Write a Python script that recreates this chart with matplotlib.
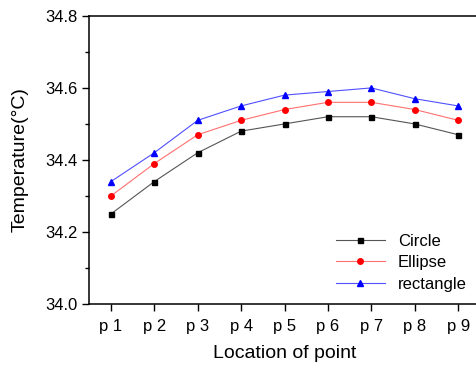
import numpy as np
import matplotlib
matplotlib.use("Agg")
import matplotlib.pyplot as plt
import matplotlib.ticker as ticker

plt.rcParams['font.family'] = ['Liberation Sans', 'DejaVu Sans']

points = ["p 1", "p 2", "p 3", "p 4", "p 5", "p 6", "p 7", "p 8", "p 9"]
circle = [34.25, 34.34, 34.42, 34.48, 34.50, 34.52, 34.52, 34.50, 34.47]
ellipse = [34.30, 34.39, 34.47, 34.51, 34.54, 34.56, 34.56, 34.54, 34.51]
rectangle = [34.34, 34.42, 34.51, 34.55, 34.58, 34.59, 34.60, 34.57, 34.55]

x = np.arange(1, len(points) + 1)

fig = plt.figure(figsize=(4.77, 3.69), dpi=100)
ax = fig.add_axes([0.187, 0.176, 0.819, 0.781])

ax.plot(x, circle, color="#555555", lw=0.8, marker="s", ms=3.6,
        mfc="black", mec="black", label="Circle")
ax.plot(x, ellipse, color="#ff7070", lw=0.8, marker="o", ms=4,
        mfc="red", mec="red", label="Ellipse")
ax.plot(x, rectangle, color="#5050ff", lw=0.8, marker="^", ms=4.6,
        mfc="blue", mec="blue", label="rectangle")

ax.set_xlim(0.5, 9.5)
ax.set_ylim(34.0, 34.8)
ax.set_xticks(x)
ax.set_xticklabels(points)
ax.yaxis.set_major_locator(ticker.MultipleLocator(0.2))
ax.yaxis.set_minor_locator(ticker.MultipleLocator(0.1))
ax.yaxis.set_major_formatter(ticker.FormatStrFormatter("%.1f"))
ax.tick_params(which="major", direction="out", length=5, width=1, labelsize=12)
ax.tick_params(which="minor", direction="out", length=3, width=1)
ax.tick_params(axis="x", pad=6)
for s in ax.spines.values():
    s.set_linewidth(1.1)

ax.set_xlabel("Location of point", fontsize=14, labelpad=8)
ax.set_ylabel("Temperature(°C)", fontsize=14, labelpad=12)

ax.legend(loc="lower right", bbox_to_anchor=(1.005, -0.01), frameon=False,
          fontsize=12, handlelength=2.9, labelspacing=0.4, handletextpad=0.8)

fig.savefig("out.png", dpi=100)
